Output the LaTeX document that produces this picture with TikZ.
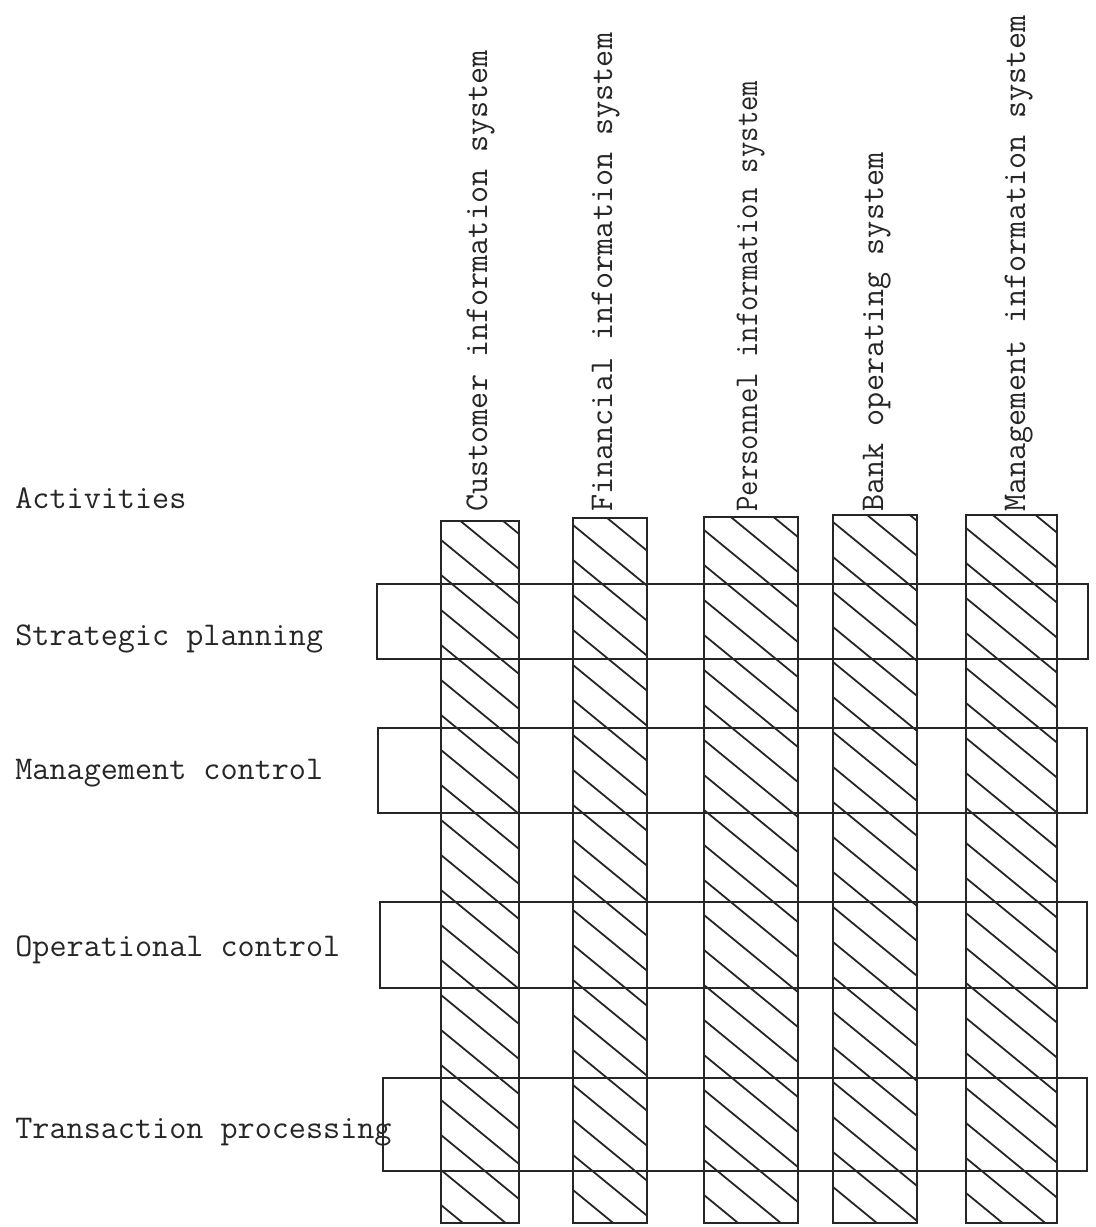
\documentclass[tikz,border=0pt]{standalone}
\usepackage{fontspec}
\usepackage{tikz}
\tikzset{
    rowlabel/.style = {anchor=base west, inner sep=0pt, font=\ttfamily\fontsize{16.6}{20}\selectfont, text=black!85},
    collabel/.style = {anchor=base west, rotate=90, inner sep=0pt, font=\ttfamily\fontsize{16.6}{20}\selectfont, text=black!85},
    edgen/.style = {-, line width=1pt, black!85},
    edgeh/.style = {-, line width=0.9pt, black!85}, % hatching
}

\begin{document}
\begin{tikzpicture}[x=0.5pt, y=-0.5pt]
  \useasboundingbox (0,0) rectangle (1096,1227);

  % activities
  \node[rowlabel] (act) at (15,508) {Activities};
  \node[rowlabel] (sp) at (15,645) {Strategic planning};
  \node[rowlabel] (mc) at (15,779) {Management control};
  \node[rowlabel] (oc) at (15,956) {Operational control};
  \node[rowlabel] (tp) at (15,1138) {Transaction processing};

  % systems
  \node[collabel] (cis) at (487,512) {Customer information system};
  \node[collabel] (fis) at (612,512) {Financial information system};
  \node[collabel] (pis) at (757,512) {\scalebox{0.9}[1]{Personnel information system}};
  \node[collabel] (bos) at (883,512) {Bank operating system};
  \node[collabel] (mis) at (1025,512) {Management information system};

  % rows
  \draw[edgen] (377,584) rectangle (1088,659);
  \draw[edgen] (378,728) rectangle (1087,813);
  \draw[edgen] (380,902) rectangle (1087,988);
  \draw[edgen] (383,1078) rectangle (1087,1171);

  % hatched columns
  \foreach \xa/\xb/\ya/\yo in {441/519/521/540, 573/647/518/525, 704/798/517/530, 833/917/515/522, 966/1057/515/528} {
    \begin{scope}
      \clip (\xa,\ya) rectangle (\xb,1223);
      \foreach \k in {-3,...,20}
        \draw[edgeh] (\xa,\yo+\k*35) -- ++(\xb-\xa,0.82*\xb-0.82*\xa);
    \end{scope}
    \draw[edgen] (\xa,\ya) rectangle (\xb,1223);
  }
\end{tikzpicture}
\end{document}
